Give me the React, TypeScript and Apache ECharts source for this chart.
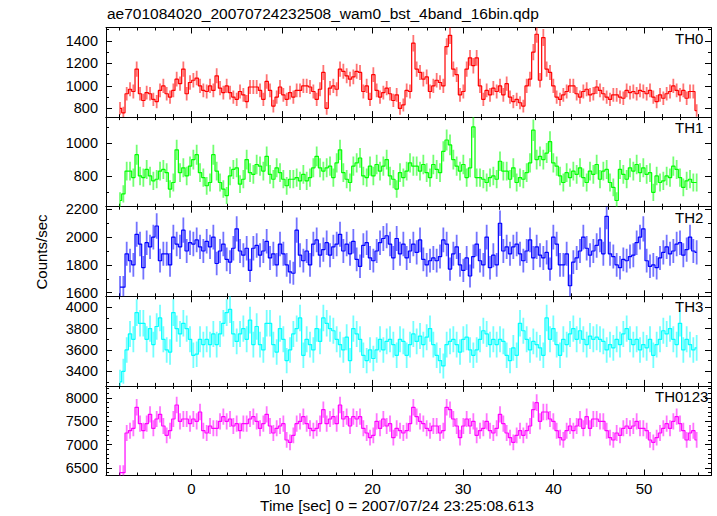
import React, { useEffect, useRef } from "react";
import * as echarts from "echarts";

// ---- time grid of the binned light curve (sec) ----
const T_START = -7.9;
const T_STEP = 0.3683;
const BIN_SEC = 0.25;

// ---- count rates (counts/sec) ----
const th0 = [
  800, 760, 930, 970, 950, 1150, 930, 870, 940, 930,
  880, 860, 960, 1000, 930, 900, 960, 1060, 1020, 1150,
  930, 1030, 1050, 1070, 1000, 960, 950, 1000, 960, 1090,
  980, 940, 1000, 940, 900, 880, 950, 920, 860, 990,
  990, 990, 960, 880, 1040, 960, 820, 900, 990, 920,
  880, 940, 900, 960, 960, 1000, 1000, 990, 950, 880,
  970, 1120, 800, 980, 1000, 970, 1150, 1130, 1090, 1060,
  1080, 1130, 1120,
  950, 1000, 880, 1100, 960, 900, 940, 980, 930, 870,
  920, 800, 830, 960, 950, 1380, 1150, 1120, 1060, 1080,
  950, 1000, 1050, 1030, 1000, 1350, 1450, 1150, 1100, 920,
  950, 1150, 1250, 1180, 1250, 1000, 880, 960, 920, 980,
  950, 1000, 920, 1020, 900, 860, 880, 850, 820, 1000,
  1060, 1300, 1460, 1050, 1430, 1150, 1120, 1000, 900, 880,
  920, 950, 1000, 1000, 930, 900, 950, 970, 920, 930,
  990, 960, 930, 900, 880, 920, 920, 900, 890, 960,
  940, 950, 930, 960, 950, 930, 960, 900, 860, 920,
  890, 930, 950, 1000, 960, 920, 960, 890, 950, 950,
  780,
];

const th1 = [
  650, 690, 830, 830, 790, 930, 800, 790, 840, 800,
  770, 780, 830, 840, 820, 720, 760, 960, 820, 850,
  800, 860, 900, 930, 820, 790, 740, 760, 930, 830,
  760, 720, 680, 800, 840, 850, 750, 780, 900, 820,
  810, 870, 860, 830, 920, 810, 780, 850, 820, 780,
  740, 780, 780, 790, 770, 810, 770, 790, 850, 920,
  850, 830, 850, 860, 790, 880, 960, 820, 780, 760,
  860, 880, 910, 800, 790, 860, 800, 870, 830, 860,
  900, 800,
  780, 720, 820, 790, 830, 880, 860, 860, 830, 870,
  820, 790, 870, 840, 820, 950, 1020, 990, 900, 860,
  830, 870, 790, 850, 1100, 790, 790, 780, 760, 790,
  800, 780, 890, 830, 830, 780, 850, 760, 790, 780,
  820, 880, 1080, 900, 920, 900, 940, 1010, 880, 860,
  800, 760, 820, 790, 830, 810, 850, 790, 760, 830,
  810, 870, 780, 830, 840, 760, 730, 650, 840, 810,
  780, 850, 830, 870, 820, 850, 810, 820, 700, 800,
  760, 770, 800, 790, 860, 840, 790, 730, 770, 780,
  760, 760,
];

const th2 = [
  1640, 1640, 1880, 1830, 1800, 2020, 1950, 1780, 1960, 1930,
  2000, 2080, 1830, 1880, 1880, 1800, 2000, 1950, 1930, 2050,
  1900, 1960, 1950, 1980, 1930, 1900, 1970, 1930, 2000, 1810,
  1900, 1950, 1840, 1820, 1920, 2060, 1900, 1870, 1920, 1760,
  1920, 1940, 1870, 1900, 1970, 1850, 1880, 1800, 1950, 1880,
  1800, 1750, 1740, 2050, 1870, 1830, 1900, 1800, 1950, 1980,
  1870, 1910, 1960, 1870, 1930, 1950, 2020, 1900, 1950, 1880,
  1970, 1840, 1790, 1940, 1960, 1850, 1830, 1900, 1960, 1990,
  2010, 1950,
  1850, 1990, 1880, 1950, 1850, 1900, 1950, 1890, 1980, 1840,
  1800, 1830, 1850, 1830, 1860, 1980, 1950, 1770, 1880, 1930,
  1800, 1760, 1850, 1720, 1860, 1950, 1830, 1800, 2000, 1780,
  1870, 1800, 2100, 1900, 1930, 1880, 1930, 1950, 1880, 1830,
  1900, 1980, 1850, 1930, 1870, 1850, 1890, 1770, 2000, 1950,
  1800, 1800, 1880, 1650, 1820, 1850, 1900, 2000, 1920, 1870,
  1900, 1940, 1980, 1880, 2150, 1880, 1860, 1800, 1780, 1840,
  1830, 1860, 1870, 1960, 2000, 2060, 1830, 1790, 1800, 1780,
  1850, 1890, 1930, 1880, 1900, 1950, 1960, 1870, 1910, 2000,
  1900, 1890,
];

const th3 = [
  3300, 3400, 3600, 3750, 3700, 3950, 3850, 3850, 3700, 3800,
  3650, 3820, 3900, 3700, 3600, 3580, 3950, 3800, 3750, 3850,
  3800, 3700, 3550, 3560, 3700, 3650, 3700, 3650, 3750, 3650,
  3750, 3850, 3950, 3980, 3750, 3680, 3750, 3800, 3700, 3880,
  3650, 3820, 3650, 3600, 3850, 3850, 3650, 3580, 3800, 3700,
  3500, 3600, 3750, 3800, 3900, 3550, 3700, 3650, 3600, 3800,
  3680, 3900, 3850, 3800, 3780, 3700, 3650, 3600, 3720, 3500,
  3800, 3750, 3700, 3550, 3500, 3600, 3520, 3600, 3700, 3600,
  3680, 3700,
  3650, 3550, 3700, 3680, 3550, 3650, 3750, 3680, 3730, 3650,
  3720, 3800, 3650, 3550, 3500, 3450, 3650, 3680, 3700, 3650,
  3580, 3700, 3720, 3600, 3550, 3600, 3700, 3780, 3750, 3650,
  3700, 3650, 3700, 3680, 3550, 3500, 3620, 3550, 3850, 3780,
  3700, 3600, 3680, 3650, 3620, 3550, 3900, 3700, 3800, 3650,
  3550, 3700, 3650, 3750, 3800, 3700, 3780, 3700, 3650, 3730,
  3700, 3720, 3700, 3680, 3600, 3650, 3620, 3700, 3650, 3750,
  3800, 3700, 3650, 3700, 3600, 3650, 3620, 3700, 3550, 3650,
  3700, 3780, 3750, 3800, 3700, 3650, 3850, 3600, 3700, 3650,
  3600, 3620,
];

const th0123 = [
  6400, 6400, 7250, 7300, 7350, 7800, 7450, 7300, 7450, 7650,
  7350, 7550, 7650, 7400, 7200, 7300, 7550, 7850, 7500, 7550,
  7550, 7450, 7550, 7500, 7700, 7300, 7250, 7400, 7350, 7350,
  7500, 7600, 7500, 7550, 7400, 7450, 7300, 7450, 7450, 7550,
  7600, 7500, 7350, 7450, 7650, 7400, 7250, 7350, 7400, 7450,
  7100, 7050, 7200, 7450, 7500, 7600, 7450, 7350, 7300, 7350,
  7450, 7750, 7450, 7550, 7600, 7450, 7850, 7550, 7600, 7400,
  7600, 7550, 7600, 7350, 7250, 7150, 7200, 7500, 7350, 7550,
  7400, 7450,
  7150, 7350, 7300, 7250, 7300, 7450, 7800, 7600, 7500, 7450,
  7350, 7300, 7400, 7400, 7250, 7300, 7800, 7750, 7550, 7400,
  7150, 7400, 7550, 7400, 7500, 7200, 7300, 7350, 7500, 7300,
  7250, 7350, 7650, 7450, 7250, 7150, 7050, 7200, 7300, 7200,
  7300, 7400, 7750, 7900, 7500, 7700, 7700, 7550, 7500, 7300,
  7150, 7100, 7300, 7400, 7300, 7400, 7550, 7350, 7600, 7350,
  7550, 7550, 7500, 7500, 7300, 7150, 7100, 7250, 7200, 7350,
  7400, 7350, 7400, 7500, 7350, 7350, 7300, 7100, 7050, 7150,
  7250, 7350, 7450, 7350, 7500, 7600, 7450, 7300, 7100, 7250,
  7300, 7100,
];

// ---- band names ----
const bandNames = ["TH0", "TH1", "TH2", "TH3", "TH0123"];
const bandSeries = [th0, th1, th2, th3, th0123];

// ---- axis ticks ----
const xMajorTicks = [0, 10, 20, 30, 40, 50];
const xMinorTicks = [-8, -6, -4, -2, 2, 4, 6, 8, 12, 14, 16, 18, 22, 24, 26, 28, 32, 34, 36, 38, 42, 44, 46, 48, 52, 54, 56];
const yMajorTicks = [
  [800, 1000, 1200, 1400],
  [800, 1000],
  [1600, 1800, 2000, 2200],
  [3400, 3600, 3800, 4000],
  [6500, 7000, 7500, 8000],
];
const yMinorTicks = [
  [900, 1100, 1300, 1500],
  [700, 900, 1100],
  [1700, 1900, 2100],
  [3300, 3500, 3700, 3900, 4100],
  [6400, 6600, 6700, 6800, 6900, 7100, 7200, 7300, 7400, 7600, 7700, 7800, 7900, 8100, 8200],
];
const yRanges = [
  [722, 1520],
  [612, 1160],
  [1574, 2219],
  [3263, 4103],
  [6339, 8259],
];
const X_RANGE = [-9.45, 57.4];

// ---- styles / layout (not data) ----
const COLORS = ["#ff0000", "#00ff00", "#0000ff", "#00ffff", "#ff00ff"];
const FONT = "Liberation Sans, Arial, Helvetica, sans-serif";
const GRID_LEFT = 106;
const GRID_RIGHT = 6;
const GRID_TOP = 27.5;
const PANEL_H = 89.6;
const LABEL_LEFT = [675, 675, 675, 675, 655];

const plain = (v: number) => String(v);

export default function App() {
  const ref = useRef<HTMLDivElement>(null);

  useEffect(() => {
    if (!ref.current) return;
    const chart = echarts.init(ref.current, null, { renderer: "svg" });

    const grids: any[] = [];
    const xAxes: any[] = [];
    const yAxes: any[] = [];
    const series: any[] = [];
    const graphics: any[] = [];

    const lineBlack = { color: "#000", width: 1 };

    bandSeries.forEach((vals, gi) => {
      const last = gi === bandSeries.length - 1;
      grids.push({
        left: GRID_LEFT,
        right: GRID_RIGHT,
        top: GRID_TOP + gi * PANEL_H,
        height: PANEL_H,
        containLabel: false,
      });
      const xb = {
        type: "value",
        gridIndex: gi,
        min: X_RANGE[0],
        max: X_RANGE[1],
        splitLine: { show: false },
      };
      const xi = xAxes.length;
      xAxes.push(
        {
          ...xb,
          position: "bottom",
          axisLine: { show: true, onZero: false, lineStyle: lineBlack },
          axisTick: { show: true, inside: true, length: 6, customValues: xMajorTicks, lineStyle: lineBlack },
          axisLabel: {
            show: last,
            customValues: xMajorTicks,
            formatter: plain,
            color: "#000",
            fontSize: 15,
            fontFamily: FONT,
            margin: 5,
          },
        },
        {
          ...xb,
          position: "bottom",
          axisLine: { show: false, onZero: false },
          axisTick: { show: true, inside: true, length: 3, customValues: xMinorTicks, lineStyle: lineBlack },
          axisLabel: { show: false },
        },
        {
          ...xb,
          position: "top",
          axisLine: { show: true, onZero: false, lineStyle: lineBlack },
          axisTick: { show: true, inside: true, length: 6, customValues: xMajorTicks, lineStyle: lineBlack },
          axisLabel: { show: false },
        },
        {
          ...xb,
          position: "top",
          axisLine: { show: false, onZero: false },
          axisTick: { show: true, inside: true, length: 3, customValues: xMinorTicks, lineStyle: lineBlack },
          axisLabel: { show: false },
        }
      );
      const yb = {
        type: "value",
        gridIndex: gi,
        min: yRanges[gi][0],
        max: yRanges[gi][1],
        splitLine: { show: false },
      };
      const yi = yAxes.length;
      yAxes.push(
        {
          ...yb,
          position: "left",
          axisLine: { show: true, onZero: false, lineStyle: lineBlack },
          axisTick: { show: true, inside: true, length: 6, customValues: yMajorTicks[gi], lineStyle: lineBlack },
          axisLabel: {
            show: true,
            customValues: yMajorTicks[gi],
            formatter: plain,
            color: "#000",
            fontSize: 14.5,
            lineHeight: 12,
            fontFamily: FONT,
            margin: 8,
          },
        },
        {
          ...yb,
          position: "left",
          axisLine: { show: false, onZero: false },
          axisTick: { show: true, inside: true, length: 3, customValues: yMinorTicks[gi], lineStyle: lineBlack },
          axisLabel: { show: false },
        },
        {
          ...yb,
          position: "right",
          axisLine: { show: true, onZero: false, lineStyle: lineBlack },
          axisTick: { show: true, inside: true, length: 6, customValues: yMajorTicks[gi], lineStyle: lineBlack },
          axisLabel: { show: false },
        },
        {
          ...yb,
          position: "right",
          axisLine: { show: false, onZero: false },
          axisTick: { show: true, inside: true, length: 3, customValues: yMinorTicks[gi], lineStyle: lineBlack },
          axisLabel: { show: false },
        }
      );

      const color = COLORS[gi];
      const pts = vals.map((v, i) => [
        +(T_START + i * T_STEP).toFixed(3),
        v,
        Math.sqrt(v / BIN_SEC),
      ]);

      series.push({
        type: "custom",
        xAxisIndex: xi,
        yAxisIndex: yi,
        clip: true,
        dimensions: ["t", "rate", "err"],
        encode: { x: 0, y: 1 },
        data: pts,
        z: 2,
        renderItem: (_params: any, api: any) => {
          const t = api.value(0);
          const v = api.value(1);
          const e = api.value(2);
          const a = api.coord([t, v - e]);
          const b = api.coord([t, v + e]);
          return {
            type: "line",
            shape: { x1: a[0], y1: a[1], x2: b[0], y2: b[1] },
            style: { stroke: color, lineWidth: 1.8, opacity: 0.55 },
          };
        },
      });
      series.push({
        type: "line",
        xAxisIndex: xi,
        yAxisIndex: yi,
        data: pts.map((p) => [p[0], p[1]]),
        step: "middle",
        symbol: "none",
        showSymbol: false,
        clip: true,
        z: 3,
        lineStyle: { color, width: 1.2 },
        itemStyle: { color },
      });

      graphics.push({
        type: "text",
        left: LABEL_LEFT[gi],
        top: GRID_TOP + gi * PANEL_H + 3,
        style: { text: bandNames[gi], fill: "#000", font: `15px ${FONT}` },
        z: 10,
      });
    });

    graphics.push(
      {
        type: "text",
        left: 107,
        top: 5,
        style: {
          text: "ae701084020_20070724232508_wam0_bst_4band_16bin.qdp",
          fill: "#000",
          font: `15.5px ${FONT}`,
        },
      },
      {
        type: "text",
        left: 260,
        top: 497,
        style: {
          text: "Time [sec] 0 = 2007/07/24 23:25:08.613",
          fill: "#000",
          font: `15.5px ${FONT}`,
        },
      },
      {
        type: "text",
        x: 41,
        y: 252,
        rotation: Math.PI / 2,
        style: {
          text: "Counts/sec",
          fill: "#000",
          font: `15px ${FONT}`,
          align: "center",
          verticalAlign: "middle",
        },
      }
    );

    chart.setOption({
      animation: false,
      backgroundColor: "#fff",
      grid: grids,
      xAxis: xAxes,
      yAxis: yAxes,
      series,
      graphic: graphics,
    });

    return () => chart.dispose();
  }, []);

  return (
    <div
      ref={ref}
      style={{ position: "absolute", left: 0, top: 0, width: 717, height: 516, background: "#fff" }}
    />
  );
}
